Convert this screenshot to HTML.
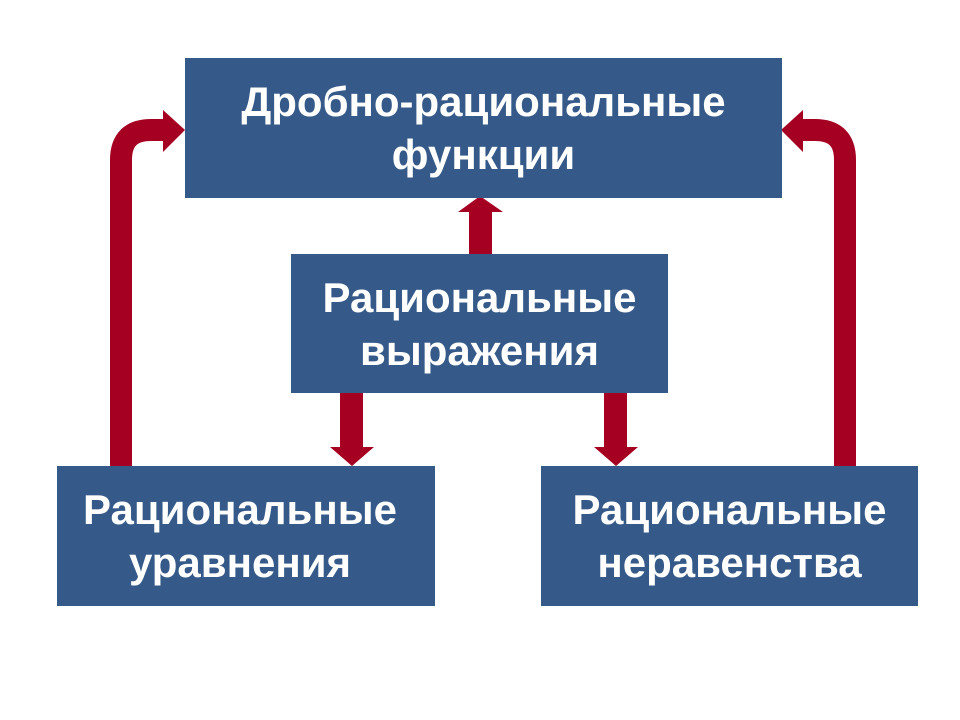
<!DOCTYPE html>
<html><head><meta charset="utf-8"><style>
body{margin:0;width:960px;height:720px;background:#fff;position:relative;overflow:hidden;font-family:"Liberation Sans",Arial,sans-serif}
.b{position:absolute;background:#355a89;color:#fff;font-weight:bold;font-size:42px;line-height:53px;display:flex;align-items:center;justify-content:center;text-align:center;white-space:nowrap}
svg{position:absolute;left:0;top:0}
</style></head><body>
<svg width="960" height="720">
<g fill="#a50021">
<polygon points="469,254 492,254 492,212 503,212 480,196 458,212 469,212"/>
<polygon points="340,393 363,393 363,447 374,447 352,466 330,447 340,447"/>
<polygon points="604,393 627,393 627,447 638,447 616,466 594,447 604,447"/>
</g>
<g fill="none" stroke="#a50021" stroke-width="22">
<path d="M121,466 V160 Q121,130 151,130 H166"/>
<path d="M845,466 V160 Q845,130 815,130 H800"/>
</g>
<g fill="#a50021">
<polygon points="163,110 185,130 163,152"/>
<polygon points="803,110 781,130 803,152"/>
</g>
</svg>
<div class="b" style="left:185px;top:58px;width:597px;height:140px">Дробно-рациональные<br>функции</div>
<div class="b" style="left:291px;top:254px;width:377px;height:139px">Рациональные<br>выражения</div>
<div class="b" style="left:57px;top:466px;width:366px;height:140px;padding-right:12px">Рациональные<br>уравнения</div>
<div class="b" style="left:541px;top:466px;width:377px;height:140px">Рациональные<br>неравенства</div>
</body></html>
